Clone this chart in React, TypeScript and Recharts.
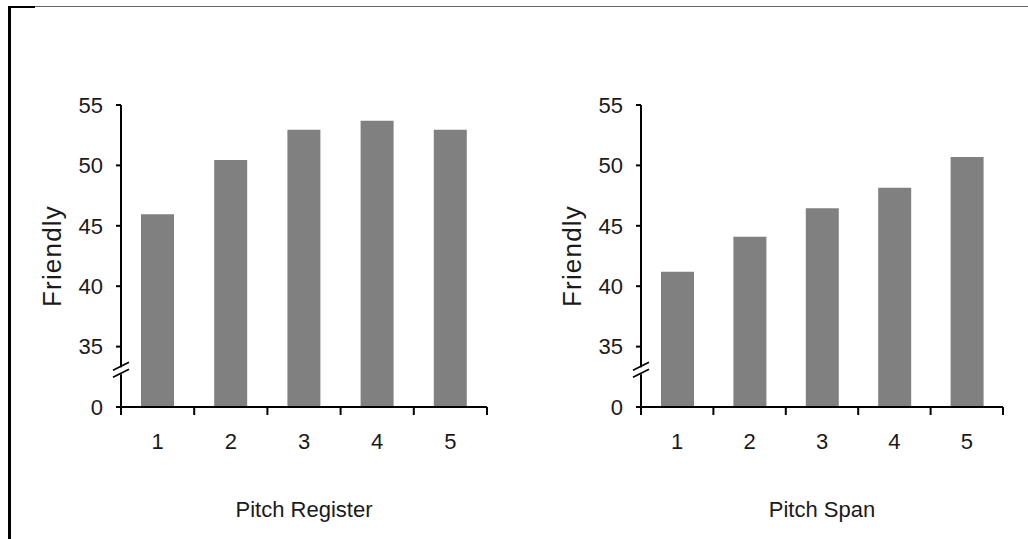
import { BarChart, Bar, XAxis, YAxis, Label } from "recharts";

const categories = ["1", "2", "3", "4", "5"];
const registerFriendly = [45.95, 50.45, 52.95, 53.7, 52.95];
const spanFriendly = [41.2, 44.1, 46.45, 48.15, 50.7];
const yTicks = [30, 35, 40, 45, 50, 55];

// broken axis: everything below 35 is collapsed, the bottom tick reads as zero
const Y_MIN = 30;
const Y_MAX = 55;
const BREAK_AT = 33;

const CHART_H = 539;
const PLOT_TOP = 105;
const PLOT_BOTTOM = 407;
const AXIS_W = 121;
const FONT = "'Liberation Sans', Arial, Helvetica, sans-serif";
const INK = "#1a1a1a";

const yOf = (v: number) =>
  PLOT_TOP + ((Y_MAX - v) / (Y_MAX - Y_MIN)) * (PLOT_BOTTOM - PLOT_TOP);

function CategoryTick(props: any) {
  const { x, y, payload, index } = props;
  const half = payload?.offset ?? 0;
  const last = index === categories.length - 1;
  return (
    <g>
      <line x1={x - half} y1={y} x2={x - half} y2={y + 8} stroke="#000" strokeWidth={2} />
      {last && (
        <line x1={x + half} y1={y} x2={x + half} y2={y + 8} stroke="#000" strokeWidth={2} />
      )}
      <text x={x} y={y + 42} textAnchor="middle" fontSize={22} fill={INK}>
        {payload.value}
      </text>
    </g>
  );
}

function FriendlyLabel(props: any) {
  const vb = props.viewBox || {};
  const cx = (vb.x ?? 0) + 52;
  const cy = (vb.y ?? 0) + (vb.height ?? 0) / 2;
  return (
    <text
      x={cx}
      y={cy}
      transform={`rotate(-90, ${cx}, ${cy})`}
      textAnchor="middle"
      dominantBaseline="central"
      fontSize={26}
      letterSpacing={1.2}
      fill={INK}
    >
      Friendly
    </text>
  );
}

// the "//" marks drawn across the y axis where it is cut
function AxisBreak() {
  const yc = yOf(BREAK_AT);
  const x = AXIS_W;
  return (
    <svg
      width={AXIS_W + 20}
      height={CHART_H}
      style={{ position: "absolute", left: 0, top: 0, pointerEvents: "none" }}
    >
      <rect x={x - 3} y={yc - 3.5} width={6} height={7} fill="#fff" />
      <line x1={x - 8} y1={yc - 0.5} x2={x + 8} y2={yc - 8.5} stroke="#000" strokeWidth={1.6} />
      <line x1={x - 8} y1={yc + 6.5} x2={x + 8} y2={yc - 1.5} stroke="#000" strokeWidth={1.6} />
    </svg>
  );
}

function Panel({
  left,
  width,
  rightMargin,
  values,
  title,
}: {
  left: number;
  width: number;
  rightMargin: number;
  values: number[];
  title: string;
}) {
  const data = categories.map((c, i) => ({ cat: c, friendly: values[i] }));
  return (
    <div style={{ position: "absolute", left, top: 0, width, height: CHART_H }}>
      <BarChart
        width={width}
        height={CHART_H}
        data={data}
        margin={{ top: PLOT_TOP, right: rightMargin, bottom: 22, left: 0 }}
      >
        <XAxis
          dataKey="cat"
          height={110}
          interval={0}
          tickLine={false}
          tickSize={0}
          tickMargin={0}
          axisLine={{ stroke: "#000", strokeWidth: 2 }}
          tick={<CategoryTick />}
        >
          <Label value={title} position="insideBottom" offset={0} fontSize={22} fill={INK} />
        </XAxis>
        <YAxis
          type="number"
          domain={[Y_MIN, Y_MAX]}
          ticks={yTicks}
          interval={0}
          width={AXIS_W}
          tickSize={5}
          tickMargin={13}
          axisLine={{ stroke: "#000", strokeWidth: 2 }}
          tickLine={{ stroke: "#000", strokeWidth: 2 }}
          tick={{ fill: INK, fontSize: 22 }}
          tickFormatter={(v: number) => (v === Y_MIN ? "0" : String(v))}
        >
          <Label content={<FriendlyLabel />} />
        </YAxis>
        <Bar dataKey="friendly" fill="#808080" barSize={33} isAnimationActive={false} />
      </BarChart>
      <AxisBreak />
    </div>
  );
}

export default function App() {
  return (
    <div
      style={{
        position: "absolute",
        left: 0,
        top: 0,
        width: 1028,
        height: 539,
        background: "#fff",
        overflow: "hidden",
        fontFamily: FONT,
      }}
    >
      <div style={{ position: "absolute", left: 35, top: 6, width: 993, height: 1, background: "#666" }} />
      <div style={{ position: "absolute", left: 8, top: 6, width: 27, height: 2, background: "#000" }} />
      <div style={{ position: "absolute", left: 8, top: 6, width: 3, height: 533, background: "#000" }} />
      <Panel left={0} width={520} rightMargin={33} values={registerFriendly} title="Pitch Register" />
      <Panel left={520} width={508} rightMargin={25} values={spanFriendly} title="Pitch Span" />
    </div>
  );
}
